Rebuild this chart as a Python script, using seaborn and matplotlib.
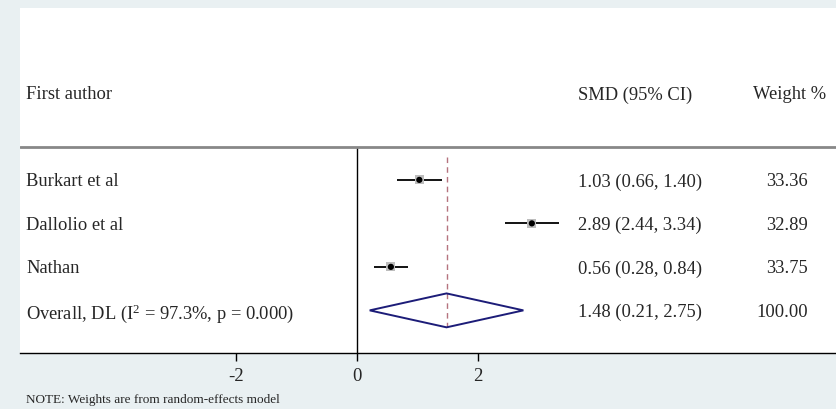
import matplotlib
matplotlib.use("Agg")
import matplotlib.pyplot as plt
import seaborn as sns
import pandas as pd
from matplotlib.patches import Rectangle, Polygon

authors = ["Burkart et al", "Dallolio et al", "Nathan"]
smd = [1.03, 2.89, 0.56]
lower = [0.66, 2.44, 0.28]
upper = [1.40, 3.34, 0.84]
weights = [33.36, 32.89, 33.75]
overall_label = "Overall, DL ($\\mathregular{I^2}$ = 97.3%, p = 0.000)"
overall = 1.48
overall_lo = 0.21
overall_hi = 2.75
overall_weight = 100.00
xticks = [-2, 0, 2]
note = "NOTE: Weights are from random-effects model"

sns.set_theme(style="white")
plt.rcParams["font.family"] = ["Liberation Serif", "DejaVu Serif"]
plt.rcParams["mathtext.fontset"] = "custom"
plt.rcParams["mathtext.rm"] = "Liberation Serif"

W, H = 836, 409
bg = "#e9f0f2"
fig = plt.figure(figsize=(W / 100, H / 100), dpi=100, facecolor=bg)

def px(x0, y0, x1, y1):
    return [x0 / W, 1 - y1 / H, (x1 - x0) / W, (y1 - y0) / H]

fig.patches.append(Rectangle((20 / W, 1 - 353 / H), (W - 20) / W, (353 - 8) / H,
                             transform=fig.transFigure, facecolor="white",
                             edgecolor="none", zorder=-10))

ax = fig.add_axes(px(20, 5, 836, 353))
ax.set_facecolor("none")
ax.set_zorder(5)
x0px = 357
unit = 60.5
ax.set_xlim((20 - x0px) / unit, (836 - x0px) / unit)
ax.set_ylim(4.98, -3.02)

rows = list(range(1, len(authors) + 1))
df = pd.DataFrame({"author": authors, "smd": smd, "lo": lower, "hi": upper,
                   "w": weights, "row": rows})

# CI lines
ax.hlines(df["row"], df["lo"], df["hi"], color="black", lw=1.3, zorder=3)
# weight boxes
sns.scatterplot(data=df, x="smd", y="row", marker="s", s=40, color="#bdbdbd",
                edgecolor="none", ax=ax, zorder=4, legend=False)
sns.scatterplot(data=df, x="smd", y="row", marker="o", s=20, color="black",
                edgecolor="none", ax=ax, zorder=5, legend=False)

orow = len(authors) + 1
hh = 0.39
diamond = Polygon([(overall_lo, orow), (overall, orow - hh), (overall_hi, orow),
                   (overall, orow + hh)], closed=True, facecolor="none",
                  edgecolor="#1c1c78", lw=1.4, zorder=3)
ax.add_patch(diamond)

# overall dashed line
ax.vlines(overall, 0.47, orow + hh, color="#b5737f", lw=1.0,
          linestyles=(0, (4, 3)), zorder=2)
# null line
ax.vlines(0, 0.24, 4.98, color="black", lw=1.0, zorder=2)
# header separator
ax.axhline(0.24, color="#888888", lw=2.0, zorder=2)

for sp in ["top", "right", "left"]:
    ax.spines[sp].set_visible(False)
ax.spines["bottom"].set_color("black")
ax.spines["bottom"].set_linewidth(1.0)
ax.set_yticks([])
ax.set_xticks(xticks)
ax.set_xticklabels([str(t) for t in xticks])
ax.tick_params(axis="x", direction="out", length=6, width=1.0, color="black",
               labelsize=13.5, pad=5, bottom=True)
ax.set_xlabel("")
ax.set_ylabel("")

fs = 13.3
va = "center_baseline"
def xd(p):
    return (p - x0px) / unit

ax.text(xd(26), -1.0, "First author", fontsize=fs, va=va, ha="left")
ax.text(xd(578), -1.0, "SMD (95% CI)", fontsize=fs, va=va, ha="left")
ax.text(xd(753), -1.0, "Weight %", fontsize=fs, va=va, ha="left")

for i, r in df.iterrows():
    ax.text(xd(26), r["row"], r["author"], fontsize=fs, va=va, ha="left")
    ax.text(xd(578), r["row"], f"{r['smd']:.2f} ({r['lo']:.2f}, {r['hi']:.2f})",
            fontsize=fs, va=va, ha="left")
    ax.text(xd(808), r["row"], f"{r['w']:.2f}", fontsize=fs, va=va, ha="right")

ax.text(xd(26), orow, overall_label, fontsize=fs, va=va, ha="left")
ax.text(xd(578), orow, f"{overall:.2f} ({overall_lo:.2f}, {overall_hi:.2f})",
        fontsize=fs, va=va, ha="left")
ax.text(xd(808), orow, f"{overall_weight:.2f}", fontsize=fs, va=va, ha="right")

fig.text(26 / W, 1 - 400 / H, note, fontsize=9.5, va="center", ha="left")

fig.savefig("out.png", dpi=100, facecolor=bg)
